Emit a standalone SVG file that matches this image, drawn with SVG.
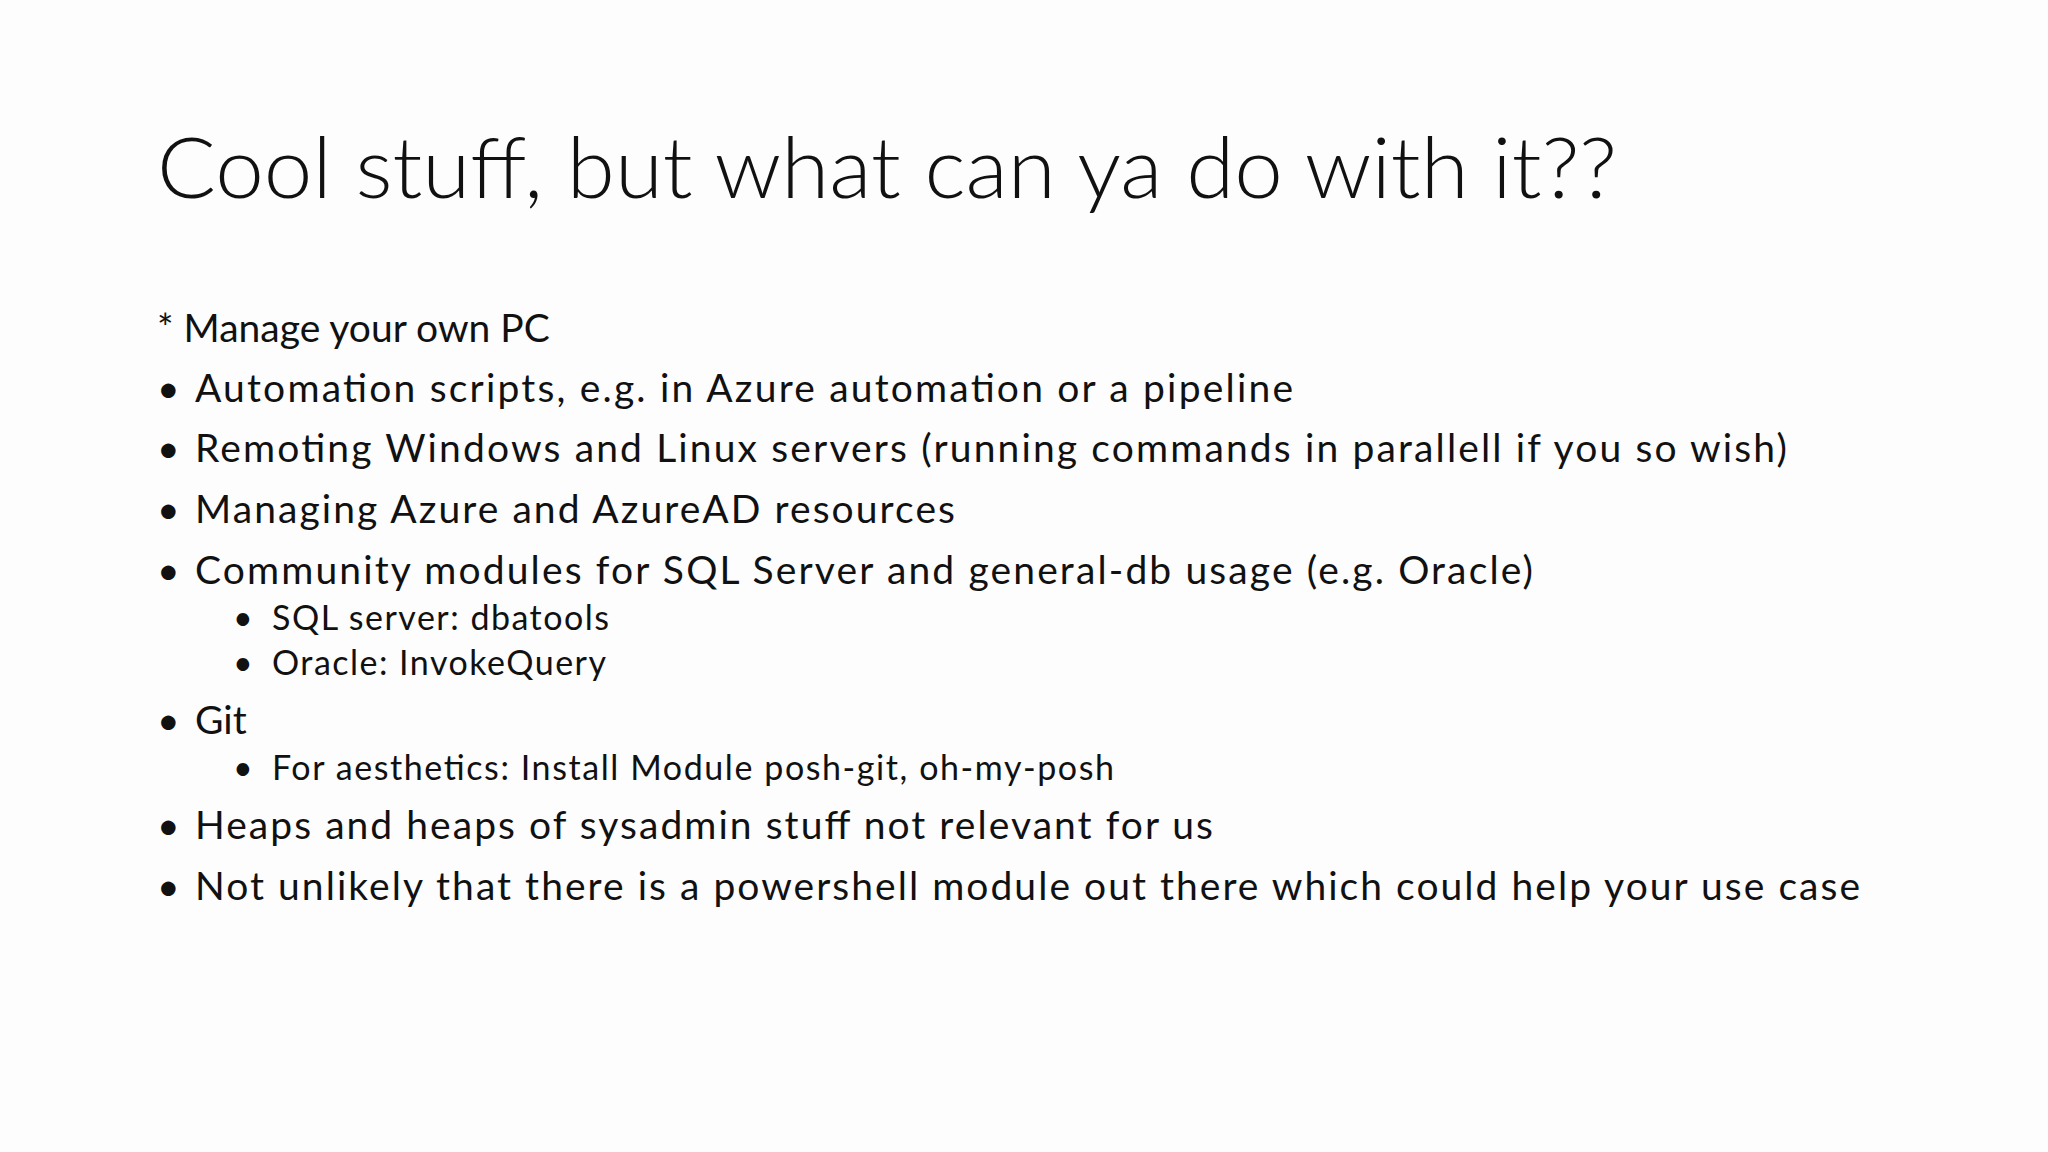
<svg xmlns="http://www.w3.org/2000/svg" width="2048" height="1152" viewBox="0 0 2048 1152">
<style>
text{font-family:Lato,"Open Sans","Liberation Sans",sans-serif;fill:#111}
.t{font-size:84px;font-weight:300}
.b{font-size:39px}
.s{font-size:34px}
</style>
<rect width="2048" height="1152" fill="#fdfdfd"/>
<g id="title"><text class="t" x="157" y="198" textLength="1460" lengthAdjust="spacingAndGlyphs">Cool stuff, but what can ya do with it??</text></g>
<g id="list">
<text class="b" x="157" y="342">* Manage your own PC</text>
<text class="b" x="157" y="402">•</text><text class="b" x="195" y="402" textLength="1098">Automation scripts, e.g. in Azure automation or a pipeline</text>
<text class="b" x="157" y="462">•</text><text class="b" x="195" y="462" textLength="1592">Remoting Windows and Linux servers (running commands in parallell if you so wish)</text>
<text class="b" x="157" y="523">•</text><text class="b" x="195" y="523" textLength="760">Managing Azure and AzureAD resources</text>
<text class="b" x="157" y="584">•</text><text class="b" x="195" y="584" textLength="1338">Community modules for SQL Server and general-db usage (e.g. Oracle)</text>
<text class="s" x="233" y="630">•</text><text class="s" x="272" y="630" textLength="337">SQL server: dbatools</text>
<text class="s" x="233" y="675">•</text><text class="s" x="272" y="675" textLength="334">Oracle: InvokeQuery</text>
<text class="b" x="157" y="734">•</text><text class="b" x="195" y="734">Git</text>
<text class="s" x="233" y="780">•</text><text class="s" x="272" y="780" textLength="842">For aesthetics: Install Module posh-git, oh-my-posh</text>
<text class="b" x="157" y="839">•</text><text class="b" x="195" y="839" textLength="1018">Heaps and heaps of sysadmin stuff not relevant for us</text>
<text class="b" x="157" y="900">•</text><text class="b" x="195" y="900" textLength="1665">Not unlikely that there is a powershell module out there which could help your use case</text>
</g>
</svg>
